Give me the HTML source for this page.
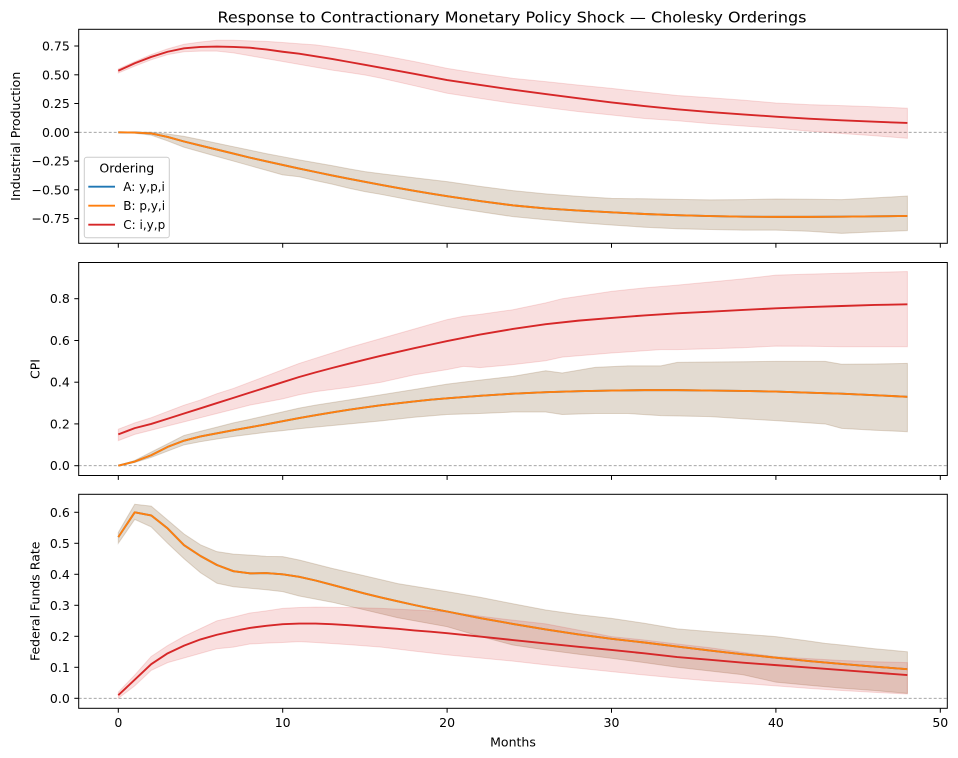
<!DOCTYPE html>
<html><head><meta charset="utf-8"><style>
html,body{margin:0;padding:0;background:#fff;}
svg{display:block;}
text{font-family:"DejaVu Sans","Liberation Sans",sans-serif;fill:#000;}
.ln{fill:none;stroke-width:1.9;vector-effect:non-scaling-stroke;stroke-linejoin:round;}
.bd{stroke-width:1;vector-effect:non-scaling-stroke;}
.zero{stroke:#999;stroke-width:0.8;stroke-dasharray:3,2;fill:none;}
.fr{fill:none;stroke:#000;stroke-width:1;}
.tk{stroke:#000;stroke-width:1;}
.yt{font-size:12.5px;text-anchor:end;}
.xt{font-size:12.5px;text-anchor:middle;}
</style></head><body>
<svg width="958" height="758" viewBox="0 0 958 758" xmlns="http://www.w3.org/2000/svg">
<rect width="958" height="758" fill="#fff"/>
<text x="217.5" y="22.3" font-size="15" textLength="589" lengthAdjust="spacingAndGlyphs">Response to Contractionary Monetary Policy Shock — Cholesky Orderings</text>

<!-- ===== TOP PANEL ===== -->
<line class="zero" x1="78.7" y1="132.3" x2="947.3" y2="132.3"/>
<g transform="translate(118.3,132.3) scale(16.44,-115.07)">
<polygon class="bd" fill="#1f77b4" fill-opacity="0.15" stroke="#1f77b4" stroke-opacity="0.15" points="0,0 1,.004 2,0 3,-.015 4,-.035 5,-.065 6,-.095 7,-.125 8,-.155 9,-.185 10,-.212 11,-.24 12,-.265 13,-.29 14,-.317 15,-.342 16,-.36 18,-.395 20,-.429 22,-.47 24,-.507 26,-.535 28,-.557 30,-.574 32,-.578 34,-.583 36,-.587 38,-.585 40,-.58 42,-.582 44,-.585 46,-.57 48,-.554 48,-.855 46,-.865 44,-.878 42,-.86 40,-.85 38,-.85 36,-.845 34,-.838 32,-.825 30,-.806 28,-.785 26,-.76 24,-.733 22,-.69 20,-.646 18,-.595 16,-.54 15,-.516 14,-.485 13,-.45 12,-.42 11,-.386 10,-.37 9,-.33 8,-.29 7,-.25 6,-.21 5,-.17 4,-.13 3,-.075 2,-.025 1,-.008 0,0"/>
<polygon class="bd" fill="#ff7f0e" fill-opacity="0.15" stroke="#ff7f0e" stroke-opacity="0.15" points="0,0 1,.004 2,0 3,-.015 4,-.035 5,-.065 6,-.095 7,-.125 8,-.155 9,-.185 10,-.212 11,-.24 12,-.265 13,-.29 14,-.317 15,-.342 16,-.36 18,-.395 20,-.429 22,-.47 24,-.507 26,-.535 28,-.557 30,-.574 32,-.578 34,-.583 36,-.587 38,-.585 40,-.58 42,-.582 44,-.585 46,-.57 48,-.554 48,-.855 46,-.865 44,-.878 42,-.86 40,-.85 38,-.85 36,-.845 34,-.838 32,-.825 30,-.806 28,-.785 26,-.76 24,-.733 22,-.69 20,-.646 18,-.595 16,-.54 15,-.516 14,-.485 13,-.45 12,-.42 11,-.386 10,-.37 9,-.33 8,-.29 7,-.25 6,-.21 5,-.17 4,-.13 3,-.075 2,-.025 1,-.008 0,0"/>
<polygon class="bd" fill="#d62728" fill-opacity="0.15" stroke="#d62728" stroke-opacity="0.15" points="0,.55 1,.615 2,.675 3,.725 4,.765 5,.785 6,.80 7,.80 8,.795 9,.79 10,.78 11,.77 12,.76 13,.74 14,.72 15,.695 16,.67 18,.615 20,.556 22,.51 24,.469 26,.44 28,.41 30,.382 32,.35 34,.32 36,.3 38,.28 40,.255 42,.24 44,.232 46,.222 48,.209 48,-.052 46,-.03 44,-.01 42,.01 40,.035 38,.055 36,.075 34,.1 32,.12 30,.15 28,.18 26,.215 24,.252 22,.295 20,.339 18,.405 16,.47 15,.498 14,.52 13,.54 12,.565 11,.59 10,.615 9,.64 8,.665 7,.69 6,.705 5,.705 4,.70 3,.675 2,.63 1,.575 0,.515"/>
<polyline class="ln" stroke="#1f77b4" points="0,0 1,-.002 2,-.01 3,-.04 4,-.08 5,-.115 6,-.15 7,-.185 8,-.22 9,-.252 10,-.284 11,-.315 12,-.345 13,-.375 14,-.403 15,-.43 16,-.457 17,-.483 18,-.508 19,-.532 20,-.555 22,-.598 24,-.635 26,-.662 28,-.68 30,-.695 32,-.71 34,-.72 36,-.728 38,-.733 40,-.735 42,-.735 44,-.733 46,-.73 48,-.727"/>
<polyline class="ln" stroke="#ff7f0e" points="0,0 1,-.002 2,-.01 3,-.04 4,-.08 5,-.115 6,-.15 7,-.185 8,-.22 9,-.252 10,-.284 11,-.315 12,-.345 13,-.375 14,-.403 15,-.43 16,-.457 17,-.483 18,-.508 19,-.532 20,-.555 22,-.598 24,-.635 26,-.662 28,-.68 30,-.695 32,-.71 34,-.72 36,-.728 38,-.733 40,-.735 42,-.735 44,-.733 46,-.73 48,-.727"/>
<polyline class="ln" stroke="#d62728" points="0,.535 1,.60 2,.655 3,.70 4,.73 5,.742 6,.745 7,.742 8,.735 9,.72 10,.70 11,.683 12,.66 13,.638 14,.612 15,.586 16,.56 17,.534 18,.508 19,.481 20,.454 22,.412 24,.37 26,.332 28,.295 30,.26 32,.228 34,.2 36,.176 38,.155 40,.136 42,.118 44,.104 46,.092 48,.081"/>
</g>
<rect class="fr" x="78.7" y="29.3" width="868.6" height="214"/>
<g class="tk">
<line x1="74.3" y1="46.0" x2="78.7" y2="46.0"/><line x1="74.3" y1="74.8" x2="78.7" y2="74.8"/><line x1="74.3" y1="103.5" x2="78.7" y2="103.5"/><line x1="74.3" y1="132.3" x2="78.7" y2="132.3"/><line x1="74.3" y1="161.1" x2="78.7" y2="161.1"/><line x1="74.3" y1="189.8" x2="78.7" y2="189.8"/><line x1="74.3" y1="218.6" x2="78.7" y2="218.6"/>
<line x1="118.3" y1="243.3" x2="118.3" y2="247.7"/><line x1="282.7" y1="243.3" x2="282.7" y2="247.7"/><line x1="447.1" y1="243.3" x2="447.1" y2="247.7"/><line x1="611.5" y1="243.3" x2="611.5" y2="247.7"/><line x1="775.9" y1="243.3" x2="775.9" y2="247.7"/><line x1="940.3" y1="243.3" x2="940.3" y2="247.7"/>
</g>
<text class="yt" x="69.8" y="50.5">0.75</text>
<text class="yt" x="69.8" y="79.3">0.50</text>
<text class="yt" x="69.8" y="108.0">0.25</text>
<text class="yt" x="69.8" y="136.8">0.00</text>
<text class="yt" x="69.8" y="165.6">−0.25</text>
<text class="yt" x="69.8" y="194.3">−0.50</text>
<text class="yt" x="69.8" y="223.1">−0.75</text>
<text font-size="12.5" text-anchor="middle" transform="translate(19.8,136.3) rotate(-90)">Industrial Production</text>

<!-- legend -->
<rect x="84.3" y="157.3" width="85" height="80.4" rx="2.5" ry="2.5" fill="#fff" fill-opacity="0.8" stroke="#cccccc" stroke-width="1"/>
<text x="126.8" y="172.7" font-size="12.5" text-anchor="middle">Ordering</text>
<line x1="88.3" y1="186.7" x2="115" y2="186.7" stroke="#1f77b4" stroke-width="1.9"/>
<line x1="88.3" y1="205.7" x2="115" y2="205.7" stroke="#ff7f0e" stroke-width="1.9"/>
<line x1="88.3" y1="224.7" x2="115" y2="224.7" stroke="#d62728" stroke-width="1.9"/>
<text x="123.3" y="191.2" font-size="12">A: y,p,i</text>
<text x="123.3" y="210.2" font-size="12">B: p,y,i</text>
<text x="123.3" y="229.2" font-size="12">C: i,y,p</text>

<!-- ===== MIDDLE PANEL ===== -->
<line class="zero" x1="78.7" y1="465.7" x2="947.3" y2="465.7"/>
<g transform="translate(118.3,465.7) scale(16.44,-208.75)">
<polygon class="bd" fill="#1f77b4" fill-opacity="0.15" stroke="#1f77b4" stroke-opacity="0.15" points="0,0 1,.025 2,.065 3,.105 4,.145 5,.165 6,.185 7,.205 8,.222 9,.24 10,.258 11,.276 12,.29 14,.315 16,.34 18,.365 20,.391 22,.41 24,.428 26,.455 27,.444 29,.471 31,.478 33,.478 34,.495 36,.497 38,.498 40,.50 43,.50 44,.486 46,.487 48,.49 48,.163 46,.17 44,.179 43,.2 42,.205 40,.216 38,.225 36,.235 33,.24 31,.25 29,.25 27,.245 26,.257 24,.257 22,.25 20,.245 18,.232 16,.215 14,.2 12,.185 11,.177 10,.168 9,.16 8,.15 7,.14 6,.128 5,.115 4,.1 3,.07 2,.04 1,.015 0,0"/>
<polygon class="bd" fill="#ff7f0e" fill-opacity="0.15" stroke="#ff7f0e" stroke-opacity="0.15" points="0,0 1,.025 2,.065 3,.105 4,.145 5,.165 6,.185 7,.205 8,.222 9,.24 10,.258 11,.276 12,.29 14,.315 16,.34 18,.365 20,.391 22,.41 24,.428 26,.455 27,.444 29,.471 31,.478 33,.478 34,.495 36,.497 38,.498 40,.50 43,.50 44,.486 46,.487 48,.49 48,.163 46,.17 44,.179 43,.2 42,.205 40,.216 38,.225 36,.235 33,.24 31,.25 29,.25 27,.245 26,.257 24,.257 22,.25 20,.245 18,.232 16,.215 14,.2 12,.185 11,.177 10,.168 9,.16 8,.15 7,.14 6,.128 5,.115 4,.1 3,.07 2,.04 1,.015 0,0"/>
<polygon class="bd" fill="#d62728" fill-opacity="0.15" stroke="#d62728" stroke-opacity="0.15" points="0,.175 1,.205 2,.23 3,.26 4,.29 5,.315 6,.345 7,.37 8,.40 9,.43 10,.46 11,.49 12,.515 13,.54 14,.565 16,.61 18,.655 20,.70 21,.716 22,.725 24,.747 26,.78 27,.80 30,.835 32,.852 34,.865 36,.88 38,.895 40,.913 42,.918 44,.922 46,.926 48,.93 48,.57 46,.57 44,.57 42,.572 40,.573 38,.565 36,.56 34,.556 33,.556 30,.54 27,.52 26,.503 24,.484 22,.47 21,.476 20,.46 18,.435 16,.40 14,.375 12,.355 11,.34 10,.32 9,.305 8,.29 7,.27 6,.25 5,.23 4,.21 3,.19 2,.17 1,.15 0,.12"/>
<polyline class="ln" stroke="#1f77b4" points="0,0 1,.02 2,.05 3,.09 4,.12 5,.14 6,.155 7,.17 8,.184 9,.198 10,.213 11,.228 12,.242 13,.255 14,.268 15,.279 16,.29 17,.299 18,.308 19,.316 20,.323 22,.335 24,.345 26,.352 28,.357 30,.36 32,.362 34,.362 36,.36 38,.358 40,.355 42,.35 44,.345 46,.338 48,.33"/>
<polyline class="ln" stroke="#ff7f0e" points="0,0 1,.02 2,.05 3,.09 4,.12 5,.14 6,.155 7,.17 8,.184 9,.198 10,.213 11,.228 12,.242 13,.255 14,.268 15,.279 16,.29 17,.299 18,.308 19,.316 20,.323 22,.335 24,.345 26,.352 28,.357 30,.36 32,.362 34,.362 36,.36 38,.358 40,.355 42,.35 44,.345 46,.338 48,.33"/>
<polyline class="ln" stroke="#d62728" points="0,.15 1,.18 2,.20 3,.225 4,.25 5,.275 6,.30 7,.325 8,.35 9,.375 10,.40 11,.425 12,.447 13,.468 14,.488 15,.508 16,.527 17,.545 18,.563 19,.58 20,.597 22,.628 24,.655 26,.678 28,.695 30,.708 32,.72 34,.73 36,.738 38,.746 40,.754 42,.76 44,.765 46,.77 48,.773"/>
</g>
<rect class="fr" x="78.7" y="262.5" width="868.6" height="213"/>
<g class="tk">
<line x1="74.3" y1="465.7" x2="78.7" y2="465.7"/><line x1="74.3" y1="423.9" x2="78.7" y2="423.9"/><line x1="74.3" y1="382.2" x2="78.7" y2="382.2"/><line x1="74.3" y1="340.5" x2="78.7" y2="340.5"/><line x1="74.3" y1="298.7" x2="78.7" y2="298.7"/>
<line x1="118.3" y1="475.5" x2="118.3" y2="479.9"/><line x1="282.7" y1="475.5" x2="282.7" y2="479.9"/><line x1="447.1" y1="475.5" x2="447.1" y2="479.9"/><line x1="611.5" y1="475.5" x2="611.5" y2="479.9"/><line x1="775.9" y1="475.5" x2="775.9" y2="479.9"/><line x1="940.3" y1="475.5" x2="940.3" y2="479.9"/>
</g>
<text class="yt" x="69.8" y="470.2">0.0</text>
<text class="yt" x="69.8" y="428.4">0.2</text>
<text class="yt" x="69.8" y="386.7">0.4</text>
<text class="yt" x="69.8" y="345.0">0.6</text>
<text class="yt" x="69.8" y="303.2">0.8</text>
<text font-size="12.5" text-anchor="middle" transform="translate(39.6,369) rotate(-90)">CPI</text>

<!-- ===== BOTTOM PANEL ===== -->
<line class="zero" x1="78.7" y1="698.3" x2="947.3" y2="698.3"/>
<g transform="translate(118.3,698.3) scale(16.44,-310)">
<polygon class="bd" fill="#1f77b4" fill-opacity="0.15" stroke="#1f77b4" stroke-opacity="0.15" points="0,.535 1,.626 2,.62 3,.575 4,.53 5,.495 6,.473 7,.465 8,.462 9,.458 10,.457 11,.446 13,.419 15,.395 17,.37 20,.344 22,.326 24,.305 26,.285 28,.27 30,.258 32,.242 34,.224 36,.215 38,.207 40,.199 42,.185 43,.177 44,.172 46,.16 48,.15 48,.016 46,.025 44,.033 42,.042 40,.052 38,.076 36,.088 34,.1 32,.115 30,.129 28,.142 26,.156 24,.172 22,.2 20,.231 17,.26 15,.285 13,.31 11,.33 10,.344 9,.35 8,.355 7,.36 6,.371 5,.405 4,.45 3,.50 2,.553 1,.577 0,.50"/>
<polygon class="bd" fill="#ff7f0e" fill-opacity="0.15" stroke="#ff7f0e" stroke-opacity="0.15" points="0,.535 1,.626 2,.62 3,.575 4,.53 5,.495 6,.473 7,.465 8,.462 9,.458 10,.457 11,.446 13,.419 15,.395 17,.37 20,.344 22,.326 24,.305 26,.285 28,.27 30,.258 32,.242 34,.224 36,.215 38,.207 40,.199 42,.185 43,.177 44,.172 46,.16 48,.15 48,.016 46,.025 44,.033 42,.042 40,.052 38,.076 36,.088 34,.1 32,.115 30,.129 28,.142 26,.156 24,.172 22,.2 20,.231 17,.26 15,.285 13,.31 11,.33 10,.344 9,.35 8,.355 7,.36 6,.371 5,.405 4,.45 3,.50 2,.553 1,.577 0,.50"/>
<polygon class="bd" fill="#d62728" fill-opacity="0.15" stroke="#d62728" stroke-opacity="0.15" points="0,.02 1,.075 2,.135 3,.17 4,.2 5,.225 6,.25 7,.262 8,.275 9,.282 10,.29 11,.293 12,.294 14,.293 16,.29 18,.285 20,.279 22,.265 24,.252 26,.24 28,.22 30,.199 32,.188 34,.175 36,.163 38,.148 40,.134 42,.128 44,.122 46,.118 48,.115 48,.014 46,.019 44,.025 42,.032 40,.04 38,.048 36,.056 34,.065 32,.075 30,.086 28,.097 26,.108 24,.12 22,.13 20,.14 18,.152 16,.165 14,.173 12,.18 11,.183 10,.18 9,.178 8,.175 7,.165 6,.16 5,.145 4,.13 3,.115 2,.09 1,.04 0,0"/>
<polyline class="ln" stroke="#1f77b4" points="0,.52 1,.60 2,.59 3,.548 4,.494 5,.459 6,.43 7,.41 8,.403 9,.404 10,.40 11,.392 12,.38 13,.366 14,.352 15,.338 16,.325 17,.313 18,.301 19,.29 20,.28 22,.259 24,.24 26,.222 28,.206 30,.192 32,.18 34,.167 36,.154 38,.142 40,.131 42,.12 44,.111 46,.102 48,.094"/>
<polyline class="ln" stroke="#ff7f0e" points="0,.52 1,.60 2,.59 3,.548 4,.494 5,.459 6,.43 7,.41 8,.403 9,.404 10,.40 11,.392 12,.38 13,.366 14,.352 15,.338 16,.325 17,.313 18,.301 19,.29 20,.28 22,.259 24,.24 26,.222 28,.206 30,.192 32,.18 34,.167 36,.154 38,.142 40,.131 42,.12 44,.111 46,.102 48,.094"/>
<polyline class="ln" stroke="#d62728" points="0,.01 1,.06 2,.11 3,.145 4,.17 5,.19 6,.205 7,.217 8,.227 9,.234 10,.239 11,.241 12,.241 13,.239 14,.236 15,.232 16,.228 17,.224 18,.219 19,.215 20,.21 22,.199 24,.188 26,.177 28,.166 30,.156 32,.145 34,.133 36,.124 38,.115 40,.107 42,.099 44,.091 46,.083 48,.075"/>
</g>
<rect class="fr" x="78.7" y="494.3" width="868.6" height="214"/>
<g class="tk">
<line x1="74.3" y1="698.3" x2="78.7" y2="698.3"/><line x1="74.3" y1="667.3" x2="78.7" y2="667.3"/><line x1="74.3" y1="636.3" x2="78.7" y2="636.3"/><line x1="74.3" y1="605.3" x2="78.7" y2="605.3"/><line x1="74.3" y1="574.3" x2="78.7" y2="574.3"/><line x1="74.3" y1="543.3" x2="78.7" y2="543.3"/><line x1="74.3" y1="512.3" x2="78.7" y2="512.3"/>
<line x1="118.3" y1="708.3" x2="118.3" y2="712.7"/><line x1="282.7" y1="708.3" x2="282.7" y2="712.7"/><line x1="447.1" y1="708.3" x2="447.1" y2="712.7"/><line x1="611.5" y1="708.3" x2="611.5" y2="712.7"/><line x1="775.9" y1="708.3" x2="775.9" y2="712.7"/><line x1="940.3" y1="708.3" x2="940.3" y2="712.7"/>
</g>
<text class="yt" x="69.8" y="702.8">0.0</text>
<text class="yt" x="69.8" y="671.8">0.1</text>
<text class="yt" x="69.8" y="640.8">0.2</text>
<text class="yt" x="69.8" y="609.8">0.3</text>
<text class="yt" x="69.8" y="578.8">0.4</text>
<text class="yt" x="69.8" y="547.8">0.5</text>
<text class="yt" x="69.8" y="516.8">0.6</text>
<text font-size="12.5" text-anchor="middle" transform="translate(39.3,601.3) rotate(-90)">Federal Funds Rate</text>
<text class="xt" x="118.3" y="727">0</text>
<text class="xt" x="282.7" y="727">10</text>
<text class="xt" x="447.1" y="727">20</text>
<text class="xt" x="611.5" y="727">30</text>
<text class="xt" x="775.9" y="727">40</text>
<text class="xt" x="940.3" y="727">50</text>
<text x="513" y="746.3" font-size="12.5" text-anchor="middle">Months</text>
</svg>
</body></html>
